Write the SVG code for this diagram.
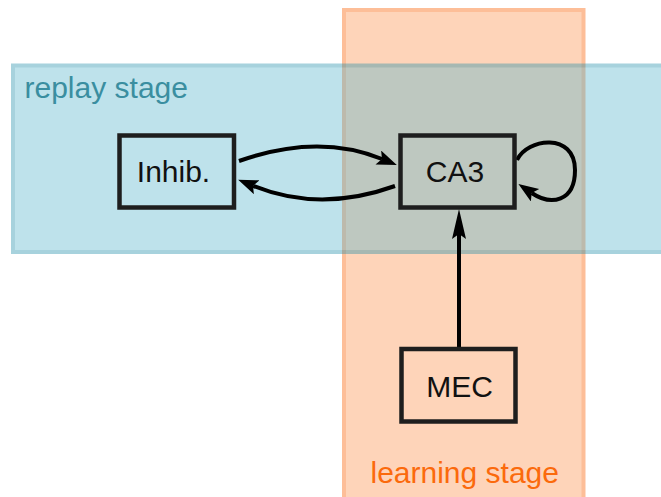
<svg xmlns="http://www.w3.org/2000/svg" width="661" height="497" viewBox="0 0 661 497">
  <style>
    .box { fill: none; stroke: #1e1e1e; stroke-width: 4.5; }
    .lbl { font-family: "Liberation Sans", Arial, sans-serif; font-size: 30px; fill: #111; text-anchor: middle; }
    .stage { font-family: "Liberation Sans", Arial, sans-serif; font-size: 30px; }
    .edge { fill: none; stroke: #000; stroke-width: 4; }
  </style>
  <defs>
    <marker id="head" markerUnits="userSpaceOnUse" orient="auto" markerWidth="22" markerHeight="16" refX="4" refY="7.5" viewBox="0 0 22 16">
      <path d="M0,0 L20,7.5 L0,15 L4,7.5 z" fill="#000"/>
    </marker>
    <marker id="headLong" markerUnits="userSpaceOnUse" orient="auto" markerWidth="32" markerHeight="16" refX="5" refY="7" viewBox="0 0 32 16">
      <path d="M0,0 L30,7 L0,14 L5,7 z" fill="#000"/>
    </marker>
  </defs>

  <rect width="661" height="497" fill="#ffffff"/>

  <g id="learning-stage">
    <g opacity="0.45">
      <rect x="344" y="10" width="239.5" height="500" fill="#fda266" stroke="#fb711c" stroke-width="4"/>
    </g>
    <text class="stage" x="370.5" y="483" fill="#fb6a0c">learning stage</text>
  </g>

  <g id="replay-stage">
    <g opacity="0.38">
      <rect x="13" y="65.5" width="700" height="186.5" fill="#57b5cd" stroke="#1a8ba8" stroke-width="4"/>
    </g>
    <text class="stage" x="24.5" y="98" fill="#3a8ea0">replay stage</text>
  </g>

  <g id="connectors">
    <path class="edge" d="M239,161 Q318,133 382,159" marker-end="url(#head)"/>
    <path class="edge" d="M395,186 Q320,213 253,185.8" marker-end="url(#head)"/>
    <path class="edge" d="M517,160 C527,138 575,132 575,170 C575,202 551,206 531.7,193" marker-end="url(#head)"/>
    <path class="edge" d="M459,347 L459,234" marker-end="url(#headLong)"/>
  </g>

  <g id="inhib">
    <rect class="box" x="119.5" y="135.5" width="114.5" height="72"/>
    <text class="lbl" x="173.5" y="182">Inhib.</text>
  </g>

  <g id="ca3">
    <rect class="box" x="400.5" y="135.5" width="114" height="72"/>
    <text class="lbl" x="455" y="182">CA3</text>
  </g>

  <g id="mec">
    <rect class="box" x="401.5" y="349" width="114" height="72.5"/>
    <text class="lbl" x="459.5" y="397">MEC</text>
  </g>
</svg>
